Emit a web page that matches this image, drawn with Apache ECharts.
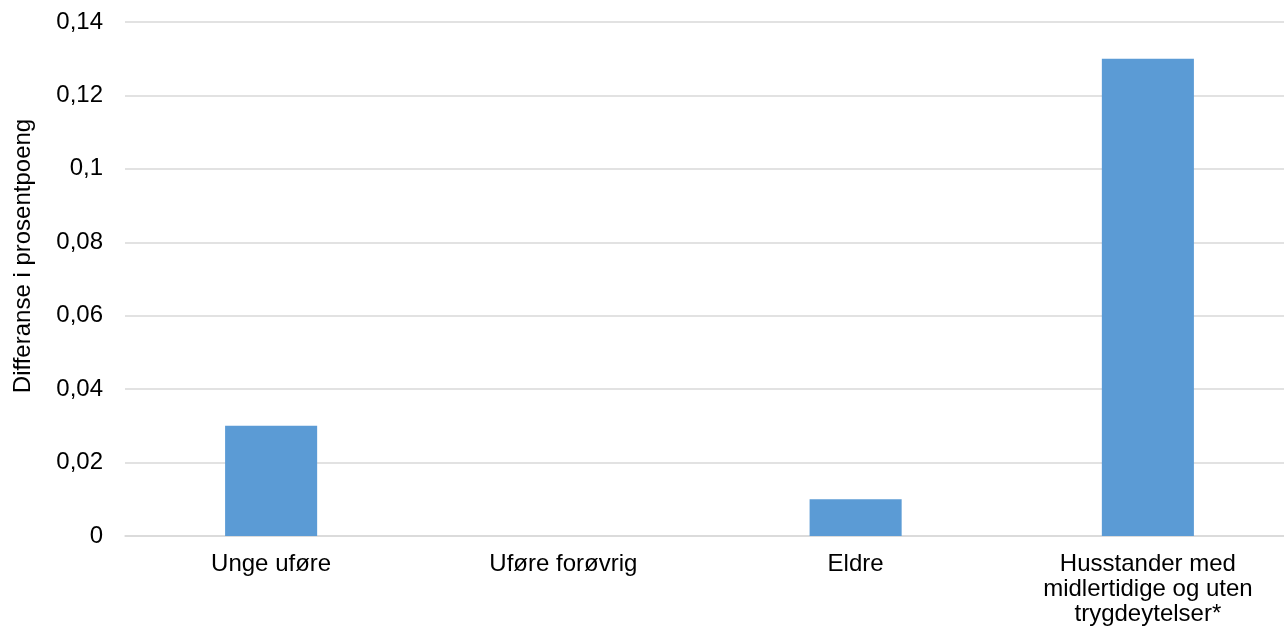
<!DOCTYPE html>
<html><head><meta charset="utf-8">
<script src="https://cdn.jsdelivr.net/npm/echarts@6/dist/echarts.min.js"></script>
<style>html,body{margin:0;padding:0;background:#fff;overflow:hidden;width:1284px;height:629px}#c{width:1294px;height:629px}</style>
</head><body><div id="c"></div>
<script>
var categories = ["Unge uføre", "Uføre forøvrig", "Eldre", "Husstander med\nmidlertidige og uten\ntrygdeytelser*"];
var values = [0.03, 0, 0.01, 0.13];
var yTitle = "Differanse i prosentpoeng";
var yMin = 0, yMax = 0.14, yStep = 0.02;

var chart = echarts.init(document.getElementById('c'));
var font = '"Liberation Sans", Arial, sans-serif';
chart.setOption({
  animation: false,
  grid: {left: 125, right: 0, top: 22, bottom: 93},
  xAxis: {
    type: 'category', data: categories,
    axisLine: {lineStyle: {color: '#D9D9D9', width: 1.5}},
    axisTick: {show: false},
    axisLabel: {color: '#000', fontFamily: font, fontSize: 24, lineHeight: 25, margin: 16, interval: 0}
  },
  yAxis: {
    type: 'value', min: yMin, max: yMax, interval: yStep,
    axisLine: {show: false}, axisTick: {show: false},
    splitLine: {lineStyle: {color: '#D9D9D9', width: 1.5}},
    axisLabel: {color: '#000', fontFamily: font, fontSize: 24, margin: 22,
      formatter: function (v) { return String(+v.toFixed(4)).replace('.', ','); }}
  },
  graphic: [{
    type: 'text', rotation: Math.PI / 2,
    x: 23, y: 256,
    style: {text: yTitle, fill: '#000', font: '24px ' + font, align: 'center', verticalAlign: 'middle'}
  }],
  series: [{
    type: 'bar', data: values, barWidth: '31.5%',
    itemStyle: {color: '#5B9BD5'}
  }]
});
</script></body></html>
